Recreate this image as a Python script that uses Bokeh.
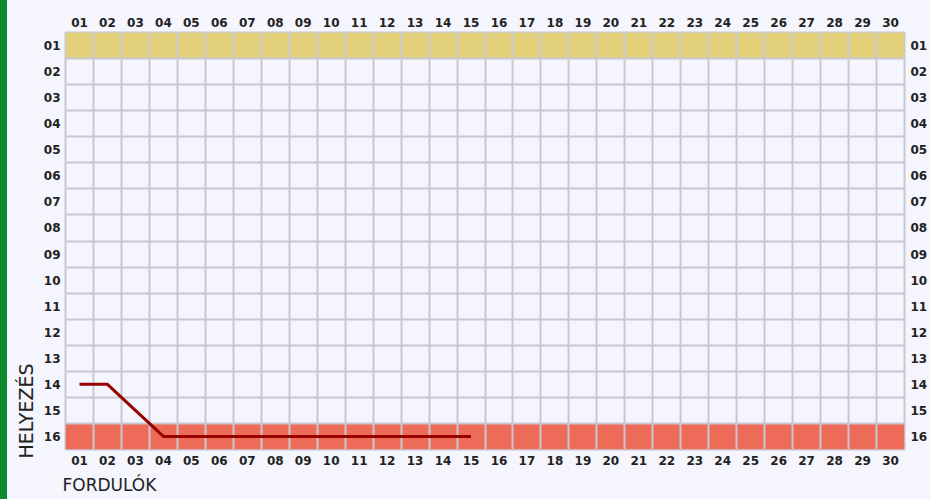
from bokeh.plotting import figure
from bokeh.models import Range1d, LinearAxis, FixedTicker, Grid, Title
from bokeh.embed import file_html
from bokeh.resources import INLINE

rounds = list(range(1, 31))
places = list(range(1, 17))
round_labels = ["01", "02", "03", "04", "05", "06", "07", "08", "09", "10",
                "11", "12", "13", "14", "15", "16", "17", "18", "19", "20",
                "21", "22", "23", "24", "25", "26", "27", "28", "29", "30"]
place_labels = ["01", "02", "03", "04", "05", "06", "07", "08",
                "09", "10", "11", "12", "13", "14", "15", "16"]
team_rounds = [1, 2, 3, 4, 5, 6, 7, 8, 9, 10, 11, 12, 13, 14, 15]
team_places = [14, 14, 15, 16, 16, 16, 16, 16, 16, 16, 16, 16, 16, 16, 16]
zone_places = [1, 16]
zone_colors = ["#e3d07b", "#ee6a59"]
x_title = "FORDULÓK"
y_title = "HELYEZÉS"

BG = "#f5f5fd"
GRID = "#c8c8d2"
FONT = "DejaVu Sans"
TXT = "#222222"

p = figure(width=922, height=491, output_backend="svg", toolbar_location=None,
           x_range=Range1d(0.5, 30.5), y_range=Range1d(16.5, 0.5),
           x_axis_location=None, y_axis_location=None,
           min_border_left=57, min_border_right=24, min_border_top=24, min_border_bottom=50)
p.background_fill_color = BG
p.border_fill_color = BG
p.outline_line_color = GRID
p.outline_line_width = 2
for g in list(p.grid):
    g.visible = False

zones = p.hbar(y=zone_places, left=0.5, right=30.5, height=1, fill_color=zone_colors, line_color=None)
zones.level = "image"

xb = [r - 0.5 for r in rounds] + [rounds[-1] + 0.5]
yb = [q - 0.5 for q in places] + [places[-1] + 0.5]
p.add_layout(Grid(dimension=0, ticker=FixedTicker(ticks=xb), grid_line_color=GRID, grid_line_width=2))
p.add_layout(Grid(dimension=1, ticker=FixedTicker(ticks=yb), grid_line_color=GRID, grid_line_width=2))


def mk_axis(ticks, labels, standoff):
    ax = LinearAxis(ticker=FixedTicker(ticks=ticks),
                    major_label_overrides={t: l for t, l in zip(ticks, labels)})
    ax.axis_line_color = None
    ax.major_tick_line_color = None
    ax.minor_tick_line_color = None
    ax.major_tick_out = 0
    ax.major_tick_in = 0
    ax.minor_tick_out = 0
    ax.minor_tick_in = 0
    ax.major_label_standoff = standoff
    ax.major_label_text_font = FONT
    ax.major_label_text_font_size = "12px"
    ax.major_label_text_font_style = "bold"
    ax.major_label_text_color = TXT
    return ax


p.add_layout(mk_axis(rounds, round_labels, 6), "above")
p.add_layout(mk_axis(rounds, round_labels, 6), "below")
p.add_layout(mk_axis(places, place_labels, 5), "left")
p.add_layout(mk_axis(places, place_labels, 6), "right")

p.line(team_rounds, team_places, line_color="#990000", line_width=3)

p.add_layout(Title(text=x_title, align="left", offset=-3, standoff=10, text_font=FONT,
                   text_font_size="17px", text_font_style="normal", text_color=TXT), "below")
p.add_layout(Title(text=y_title, align="left", offset=-9, standoff=7, text_font=FONT,
                   text_font_size="19px", text_font_style="normal", text_color=TXT), "left")

html = file_html(p, INLINE)
css = ("<style>html, body { margin: 0 !important; overflow: hidden !important; } "
       "body { padding: 8px 0 0 8px !important; "
       "background: linear-gradient(to right, #0b8a2e 0px, #0b8a2e 7px, #f5f5fd 7px) !important; }"
       "</style></head>")
html = html.replace("</head>", css, 1)
open("out.html", "w").write(html)
